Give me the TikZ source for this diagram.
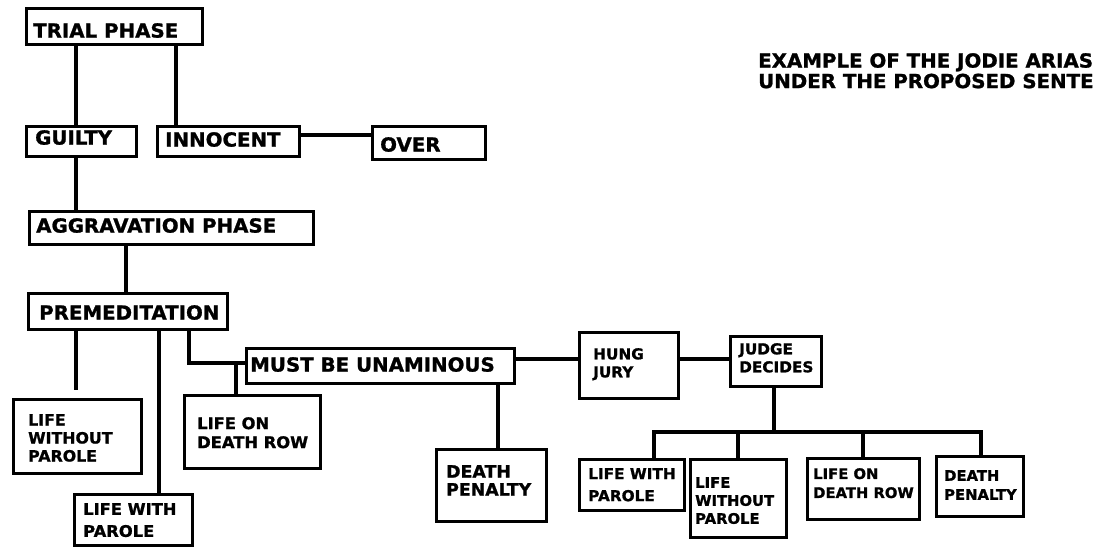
\documentclass[tikz,border=0pt]{standalone}
\usepackage{fontspec}
\newfontfamily\cgfont{DejaVu Sans}[FakeStretch=1.02, FakeBold=1.2]
\begin{document}
\begin{tikzpicture}[x=1pt,y=-1pt,
  bx/.style={draw=black, line width=3.2pt, fill=white, inner sep=0pt, anchor=north west, rectangle},
  txt/.style={anchor=north west, inner sep=0pt, align=left, text=black},
  big/.style={txt, font={\cgfont\bfseries\fontsize{19.4}{20.5}\selectfont}},
  conn/.style={draw=black, line width=3.2pt, line join=miter}]
\useasboundingbox[fill=white] (0,0) rectangle (1094,548);

% boxes
\node[bx, minimum width=176pt, minimum height=36pt] (trial)    at (25,7)    {};
\node[bx, minimum width=110pt, minimum height=30pt] (guilty)   at (25,125)  {};
\node[bx, minimum width=142pt, minimum height=30pt] (innocent) at (156,125) {};
\node[bx, minimum width=113pt, minimum height=33pt] (over)     at (371,125) {};
\node[bx, minimum width=284pt, minimum height=33pt] (aggr)     at (28,210)  {};
\node[bx, minimum width=199pt, minimum height=36pt] (premed)   at (27,292)  {};
\node[bx, minimum width=128pt, minimum height=74pt] (lwopa)    at (12,398)  {};
\node[bx, minimum width=118pt, minimum height=51pt] (lwpa)     at (73,493)  {};
\node[bx, minimum width=136pt, minimum height=73pt] (lodra)    at (183,394) {};
\node[bx, minimum width=268pt, minimum height=35pt] (must)     at (245,347) {};
\node[bx, minimum width=110pt, minimum height=72pt] (dpa)      at (435,448) {};
\node[bx, minimum width=99pt,  minimum height=66pt] (hung)     at (578,331) {};
\node[bx, minimum width=91pt,  minimum height=50pt] (judge)    at (729,335) {};
\node[bx, minimum width=105pt, minimum height=51pt] (lwpb)     at (578,458) {};
\node[bx, minimum width=96pt,  minimum height=78pt] (lwopb)    at (689,458) {};
\node[bx, minimum width=112pt, minimum height=61pt] (lodrb)    at (806,457) {};
\node[bx, minimum width=87pt,  minimum height=60pt] (dpb)      at (935,455) {};

% labels
\node[big] (ttrial)  at (33,23)  {TRIAL PHASE};
\node[big] (tguilty) at (35,130) {GUILTY};
\node[big] (tinno)   at (165,132) {INNOCENT};
\node[big] (tover)   at (380,137) {OVER};
\node[big] (taggr)   at (36,218) {AGGRAVATION PHASE};
\node[big] (tpre)    at (39,305) {PREMEDITATION};
\node[big] (tmust)   at (250,357) {MUST BE UNAMINOUS};
\node[txt, font={\cgfont\bfseries\fontsize{15.5}{18}\selectfont}] (tlwopa) at (28,414) {LIFE\\WITHOUT\\PAROLE};
\node[txt, font={\cgfont\bfseries\fontsize{16}{22}\selectfont}] (tlwpa) at (83,503) {LIFE WITH\\PAROLE};
\node[txt, font={\cgfont\bfseries\fontsize{16}{19}\selectfont}] (tlodra) at (197,417) {LIFE ON\\DEATH ROW};
\node[txt, font={\cgfont\bfseries\fontsize{17}{18}\selectfont}] (tdpa) at (446,465) {DEATH\\PENALTY};
\node[txt, font={\cgfont\bfseries\fontsize{15}{18}\selectfont}] (thung) at (593,348) {HUNG\\JURY};
\node[txt, font={\cgfont\bfseries\fontsize{15}{18}\selectfont}] (tjudge) at (739,343) {JUDGE\\DECIDES};
\node[txt, font={\cgfont\bfseries\fontsize{15}{22}\selectfont}] (tlwpb) at (588,468) {LIFE WITH\\PAROLE};
\node[txt, font={\cgfont\bfseries\fontsize{14.5}{18}\selectfont}] (tlwopb) at (695,477) {LIFE\\WITHOUT\\PAROLE};
\node[txt, font={\cgfont\bfseries\fontsize{14.5}{19}\selectfont}] (tlodrb) at (813,468) {LIFE ON\\DEATH ROW};
\node[txt, font={\cgfont\bfseries\fontsize{14.5}{19}\selectfont}] (tdpb) at (944,470) {DEATH\\PENALTY};
\node[big] (title) at (758,53) {EXAMPLE OF THE JODIE ARIAS\\UNDER THE PROPOSED SENTE};

% helper coordinates
\coordinate (xa) at (76,0);
\coordinate (xb) at (176,0);
\coordinate (xc) at (126,0);
\coordinate (xd) at (159,0);
\coordinate (xe) at (189,0);
\coordinate (xf) at (236,0);
\coordinate (xg) at (498,0);
\coordinate (xh) at (774,0);
\coordinate (p1) at (654,0);
\coordinate (p2) at (738,0);
\coordinate (p3) at (863,0);
\coordinate (p4) at (981,0);
\coordinate (ya) at (0,135);
\coordinate (yb) at (0,363);
\coordinate (yc) at (0,359);
\coordinate (yd) at (0,432);
\coordinate (j1) at (236,363);

% connectors
\draw[conn] (trial.south -| xa) -- (guilty.north -| xa);
\draw[conn] (trial.south -| xb) -- (innocent.north -| xb);
\draw[conn] (innocent.east |- ya) -- (over.west |- ya);
\draw[conn] (guilty.south -| xa) -- (aggr.north -| xa);
\draw[conn] (aggr.south -| xc) -- (premed.north -| xc);
\draw[conn, shorten >=8pt] (premed.south -| xa) -- (lwopa.north -| xa);
\draw[conn] (premed.south -| xd) -- (lwpa.north -| xd);
\draw[conn] (premed.south -| xe) |- (must.west |- yb);
\draw[conn] (j1) -- (lodra.north -| xf);
\draw[conn] (must.east |- yc) -- (hung.west |- yc);
\draw[conn] (must.south -| xg) -- (dpa.north -| xg);
\draw[conn] (hung.east |- yc) -- (judge.west |- yc);
\draw[conn] (judge.south -| xh) -- (xh |- yd);
\draw[conn] (lwpb.north -| p1) -- (p1 |- yd) -- (p4 |- yd) -- (dpb.north -| p4);
\draw[conn] (p2 |- yd) -- (lwopb.north -| p2);
\draw[conn] (p3 |- yd) -- (lodrb.north -| p3);
\end{tikzpicture}
\end{document}
